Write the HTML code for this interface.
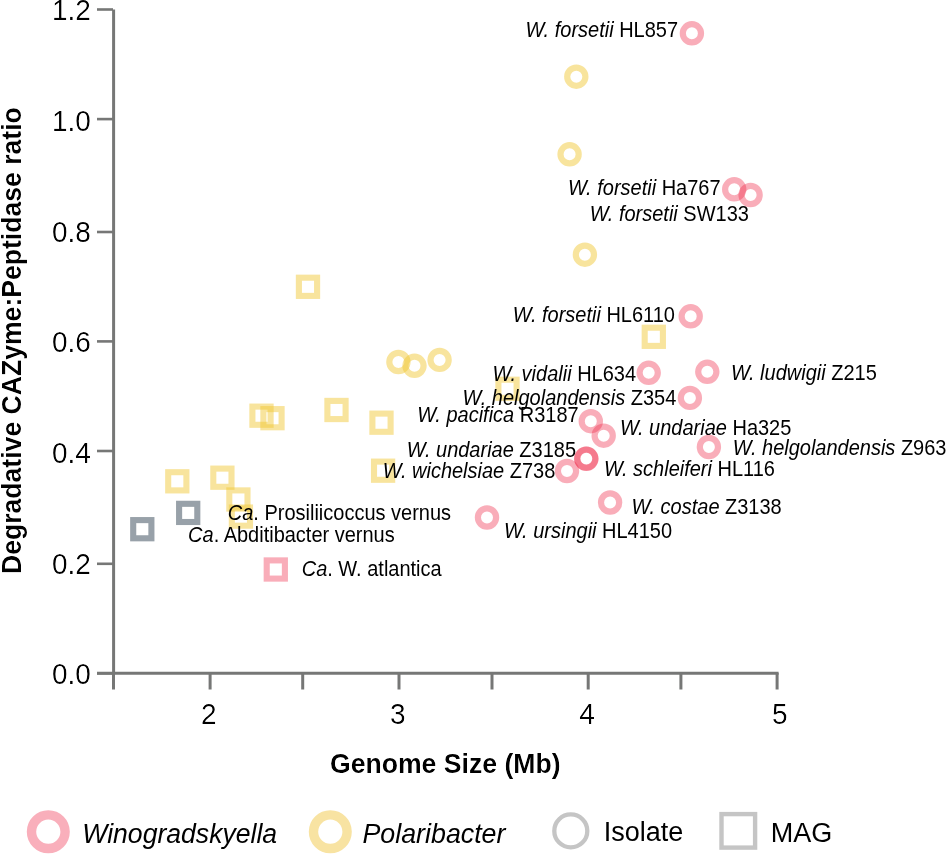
<!DOCTYPE html>
<html><head><meta charset="utf-8"><style>
html,body{margin:0;padding:0;background:#fff;}
svg{display:block;will-change:transform;}
text{font-family:"Liberation Sans",sans-serif;fill:#000;}
.tk{font-size:28px;filter:url(#thin);}
.ttl{font-size:26.6px;font-weight:bold;filter:url(#thin2);}
.lb{font-size:20px;}
.lg{font-size:27px;}
</style></head><body>
<svg width="946" height="854" viewBox="0 0 946 854">
<defs><filter id="thin" x="-10%" y="-10%" width="120%" height="120%"><feComponentTransfer><feFuncA type="gamma" amplitude="1" exponent="1.7" offset="0"/></feComponentTransfer></filter><filter id="thin2" x="-5%" y="-20%" width="110%" height="140%"><feComponentTransfer><feFuncA type="gamma" amplitude="1" exponent="1.5" offset="0"/></feComponentTransfer></filter></defs>
<rect width="946" height="854" fill="#fff"/>
<line x1="113.6" y1="9.5" x2="113.6" y2="674.8" stroke="#767776" stroke-width="3"/>
<line x1="97" y1="673.3" x2="778.6" y2="673.3" stroke="#767776" stroke-width="3"/>
<line x1="97" y1="9.5" x2="113" y2="9.5" stroke="#767776" stroke-width="2.6"/>
<line x1="97" y1="119.1" x2="113" y2="119.1" stroke="#767776" stroke-width="2.6"/>
<line x1="97" y1="232.0" x2="113" y2="232.0" stroke="#767776" stroke-width="2.6"/>
<line x1="97" y1="341.4" x2="113" y2="341.4" stroke="#767776" stroke-width="2.6"/>
<line x1="97" y1="451.0" x2="113" y2="451.0" stroke="#767776" stroke-width="2.6"/>
<line x1="97" y1="563.8" x2="113" y2="563.8" stroke="#767776" stroke-width="2.6"/>
<line x1="97" y1="673.3" x2="113" y2="673.3" stroke="#767776" stroke-width="2.6"/>
<line x1="113.5" y1="673" x2="113.5" y2="689.5" stroke="#767776" stroke-width="3"/>
<line x1="210.1" y1="673" x2="210.1" y2="689.5" stroke="#767776" stroke-width="3"/>
<line x1="302.7" y1="673" x2="302.7" y2="689.5" stroke="#767776" stroke-width="3"/>
<line x1="399.0" y1="673" x2="399.0" y2="689.5" stroke="#767776" stroke-width="3"/>
<line x1="492.0" y1="673" x2="492.0" y2="689.5" stroke="#767776" stroke-width="3"/>
<line x1="588.2" y1="673" x2="588.2" y2="689.5" stroke="#767776" stroke-width="3"/>
<line x1="680.9" y1="673" x2="680.9" y2="689.5" stroke="#767776" stroke-width="3"/>
<line x1="777.1" y1="673" x2="777.1" y2="689.5" stroke="#767776" stroke-width="3"/>
<text transform="translate(90.8,19.8) scale(1,1.04)" text-anchor="end" class="tk">1.2</text>
<text transform="translate(90.8,131.2) scale(1,1.04)" text-anchor="end" class="tk">1.0</text>
<text transform="translate(90.8,241.8) scale(1,1.04)" text-anchor="end" class="tk">0.8</text>
<text transform="translate(90.8,351.8) scale(1,1.04)" text-anchor="end" class="tk">0.6</text>
<text transform="translate(90.8,462.5) scale(1,1.04)" text-anchor="end" class="tk">0.4</text>
<text transform="translate(90.8,573.8) scale(1,1.04)" text-anchor="end" class="tk">0.2</text>
<text transform="translate(90.8,684.4) scale(1,1.04)" text-anchor="end" class="tk">0.0</text>
<text transform="translate(208.9,723.9) scale(1,1.04)" text-anchor="middle" class="tk">2</text>
<text transform="translate(397.8,723.9) scale(1,1.04)" text-anchor="middle" class="tk">3</text>
<text transform="translate(587.0,723.9) scale(1,1.04)" text-anchor="middle" class="tk">4</text>
<text transform="translate(779.7,723.9) scale(1,1.04)" text-anchor="middle" class="tk">5</text>
<text transform="translate(330,773.3) scale(1,1.02)" class="ttl">Genome Size (Mb)</text>
<text transform="translate(21.0,574.0) rotate(-90) scale(1,1.06)" class="ttl">Degradative CAZyme:Peptidase ratio</text>
<rect x="298.90" y="277.70" width="18.2" height="18.2" fill="none" stroke="rgba(240,198,50,0.48)" stroke-width="6.1"/>
<rect x="644.70" y="327.70" width="18.2" height="18.2" fill="none" stroke="rgba(240,198,50,0.48)" stroke-width="6.1"/>
<rect x="498.40" y="379.70" width="18.2" height="18.2" fill="none" stroke="rgba(240,198,50,0.48)" stroke-width="6.1"/>
<rect x="252.40" y="406.60" width="18.2" height="18.2" fill="none" stroke="rgba(240,198,50,0.48)" stroke-width="6.1"/>
<rect x="263.40" y="409.10" width="18.2" height="18.2" fill="none" stroke="rgba(240,198,50,0.48)" stroke-width="6.1"/>
<rect x="327.40" y="400.90" width="18.2" height="18.2" fill="none" stroke="rgba(240,198,50,0.48)" stroke-width="6.1"/>
<rect x="372.40" y="413.60" width="18.2" height="18.2" fill="none" stroke="rgba(240,198,50,0.48)" stroke-width="6.1"/>
<rect x="374.00" y="461.60" width="18.2" height="18.2" fill="none" stroke="rgba(240,198,50,0.48)" stroke-width="6.1"/>
<rect x="168.20" y="472.20" width="18.2" height="18.2" fill="none" stroke="rgba(240,198,50,0.48)" stroke-width="6.1"/>
<rect x="213.30" y="468.60" width="18.2" height="18.2" fill="none" stroke="rgba(240,198,50,0.48)" stroke-width="6.1"/>
<rect x="229.30" y="490.40" width="18.2" height="18.2" fill="none" stroke="rgba(240,198,50,0.48)" stroke-width="6.1"/>
<rect x="231.80" y="507.50" width="18.2" height="18.2" fill="none" stroke="rgba(240,198,50,0.48)" stroke-width="6.1"/>
<circle cx="576.3" cy="76.7" r="9.1" fill="none" stroke="rgba(240,198,50,0.48)" stroke-width="6.2"/>
<circle cx="569.6" cy="154.3" r="9.1" fill="none" stroke="rgba(240,198,50,0.48)" stroke-width="6.2"/>
<circle cx="584.9" cy="254.7" r="9.1" fill="none" stroke="rgba(240,198,50,0.48)" stroke-width="6.2"/>
<circle cx="398.4" cy="362.0" r="9.1" fill="none" stroke="rgba(240,198,50,0.48)" stroke-width="6.2"/>
<circle cx="414.5" cy="365.8" r="9.1" fill="none" stroke="rgba(240,198,50,0.48)" stroke-width="6.2"/>
<circle cx="439.6" cy="359.9" r="9.1" fill="none" stroke="rgba(240,198,50,0.48)" stroke-width="6.2"/>
<rect x="179.10" y="503.80" width="18.2" height="18.2" fill="none" stroke="#98a1a9" stroke-width="6.1"/>
<rect x="133.20" y="520.10" width="18.2" height="18.2" fill="none" stroke="#98a1a9" stroke-width="6.1"/>
<rect x="266.70" y="560.40" width="18.2" height="18.2" fill="none" stroke="rgba(238,40,70,0.38)" stroke-width="6.1"/>
<circle cx="691.9" cy="33.3" r="9.1" fill="none" stroke="rgba(238,40,70,0.38)" stroke-width="6.2"/>
<circle cx="734.2" cy="189.3" r="9.1" fill="none" stroke="rgba(238,40,70,0.38)" stroke-width="6.2"/>
<circle cx="750.6" cy="195.0" r="9.1" fill="none" stroke="rgba(238,40,70,0.38)" stroke-width="6.2"/>
<circle cx="690.7" cy="316.3" r="9.1" fill="none" stroke="rgba(238,40,70,0.38)" stroke-width="6.2"/>
<circle cx="648.7" cy="372.8" r="9.1" fill="none" stroke="rgba(238,40,70,0.38)" stroke-width="6.2"/>
<circle cx="707.3" cy="371.8" r="9.1" fill="none" stroke="rgba(238,40,70,0.38)" stroke-width="6.2"/>
<circle cx="689.9" cy="397.9" r="9.1" fill="none" stroke="rgba(238,40,70,0.38)" stroke-width="6.2"/>
<circle cx="590.8" cy="421.2" r="9.1" fill="none" stroke="rgba(238,40,70,0.38)" stroke-width="6.2"/>
<circle cx="603.7" cy="435.7" r="9.1" fill="none" stroke="rgba(238,40,70,0.38)" stroke-width="6.2"/>
<circle cx="708.9" cy="447.0" r="9.1" fill="none" stroke="rgba(238,40,70,0.38)" stroke-width="6.2"/>
<circle cx="586.2" cy="458.6" r="9.1" fill="none" stroke="rgba(238,40,70,0.38)" stroke-width="6.2"/>
<circle cx="586.4" cy="458.8" r="9.1" fill="none" stroke="rgba(238,40,70,0.38)" stroke-width="6.2"/>
<circle cx="567.0" cy="471.0" r="9.1" fill="none" stroke="rgba(238,40,70,0.38)" stroke-width="6.2"/>
<circle cx="610.1" cy="502.5" r="9.1" fill="none" stroke="rgba(238,40,70,0.38)" stroke-width="6.2"/>
<circle cx="487.0" cy="517.5" r="9.1" fill="none" stroke="rgba(238,40,70,0.38)" stroke-width="6.2"/>
<text transform="translate(525.5,36.900000000000006) scale(1,1.08)" class="lb"><tspan font-style="italic">W. forsetii</tspan> HL857</text>
<text transform="translate(568.0,195.1) scale(1,1.08)" class="lb"><tspan font-style="italic">W. forsetii</tspan> Ha767</text>
<text transform="translate(589.7,221.2) scale(1,1.08)" class="lb"><tspan font-style="italic">W. forsetii</tspan> SW133</text>
<text transform="translate(512.8,322.0) scale(1,1.08)" class="lb"><tspan font-style="italic">W. forsetii</tspan> HL6110</text>
<text transform="translate(492.4,380.79999999999995) scale(1,1.08)" class="lb"><tspan font-style="italic">W. vidalii</tspan> HL634</text>
<text transform="translate(730.9,379.9) scale(1,1.08)" class="lb"><tspan font-style="italic">W. ludwigii</tspan> Z215</text>
<text transform="translate(462.6,404.9) scale(1,1.08)" class="lb"><tspan font-style="italic">W. helgolandensis</tspan> Z354</text>
<text transform="translate(417.2,421.5) scale(1,1.08)" class="lb"><tspan font-style="italic">W. pacifica</tspan> R3187</text>
<text transform="translate(619.9,434.9) scale(1,1.08)" class="lb"><tspan font-style="italic">W. undariae</tspan> Ha325</text>
<text transform="translate(732.8,454.5) scale(1,1.08)" class="lb"><tspan font-style="italic">W. helgolandensis</tspan> Z963</text>
<text transform="translate(406.8,457.1) scale(1,1.08)" class="lb"><tspan font-style="italic">W. undariae</tspan> Z3185</text>
<text transform="translate(382.8,477.90000000000003) scale(1,1.08)" class="lb"><tspan font-style="italic">W. wichelsiae</tspan> Z738</text>
<text transform="translate(603.9,476.40000000000003) scale(1,1.08)" class="lb"><tspan font-style="italic">W. schleiferi</tspan> HL116</text>
<text transform="translate(631.4,513.5) scale(1,1.08)" class="lb"><tspan font-style="italic">W. costae</tspan> Z3138</text>
<text transform="translate(504.0,538.1999999999999) scale(1,1.08)" class="lb"><tspan font-style="italic">W. ursingii</tspan> HL4150</text>
<text transform="translate(227.8,519.5999999999999) scale(1,1.08)" class="lb"><tspan font-style="italic">Ca</tspan>. Prosiliicoccus vernus</text>
<text transform="translate(188.1,541.9) scale(1,1.08)" class="lb"><tspan font-style="italic">Ca</tspan>. Abditibacter vernus</text>
<text transform="translate(301.7,576.0999999999999) scale(1,1.08)" class="lb"><tspan font-style="italic">Ca</tspan>. W. atlantica</text>
<circle cx="48.3" cy="831.7" r="16.8" fill="none" stroke="#f9afbb" stroke-width="9.4"/>
<text transform="translate(82.3,842.5) scale(1,1.02)" class="lg" font-style="italic" style="font-size:26.6px">Winogradskyella</text>
<circle cx="330.3" cy="831.7" r="16.8" fill="none" stroke="#f8e3a2" stroke-width="9.4"/>
<text transform="translate(362.5,842.5) scale(1,1.01)" class="lg" font-style="italic" style="font-size:26.8px">Polaribacter</text>
<circle cx="570.8" cy="830.9" r="16.5" fill="none" stroke="#c5c5c5" stroke-width="4.3"/>
<text x="603.7" y="841.3" class="lg">Isolate</text>
<rect x="721.5" y="814.1" width="33.6" height="33.5" fill="none" stroke="#c5c5c5" stroke-width="4.4"/>
<text x="770.7" y="841.5" class="lg">MAG</text>
</svg>
</body></html>
